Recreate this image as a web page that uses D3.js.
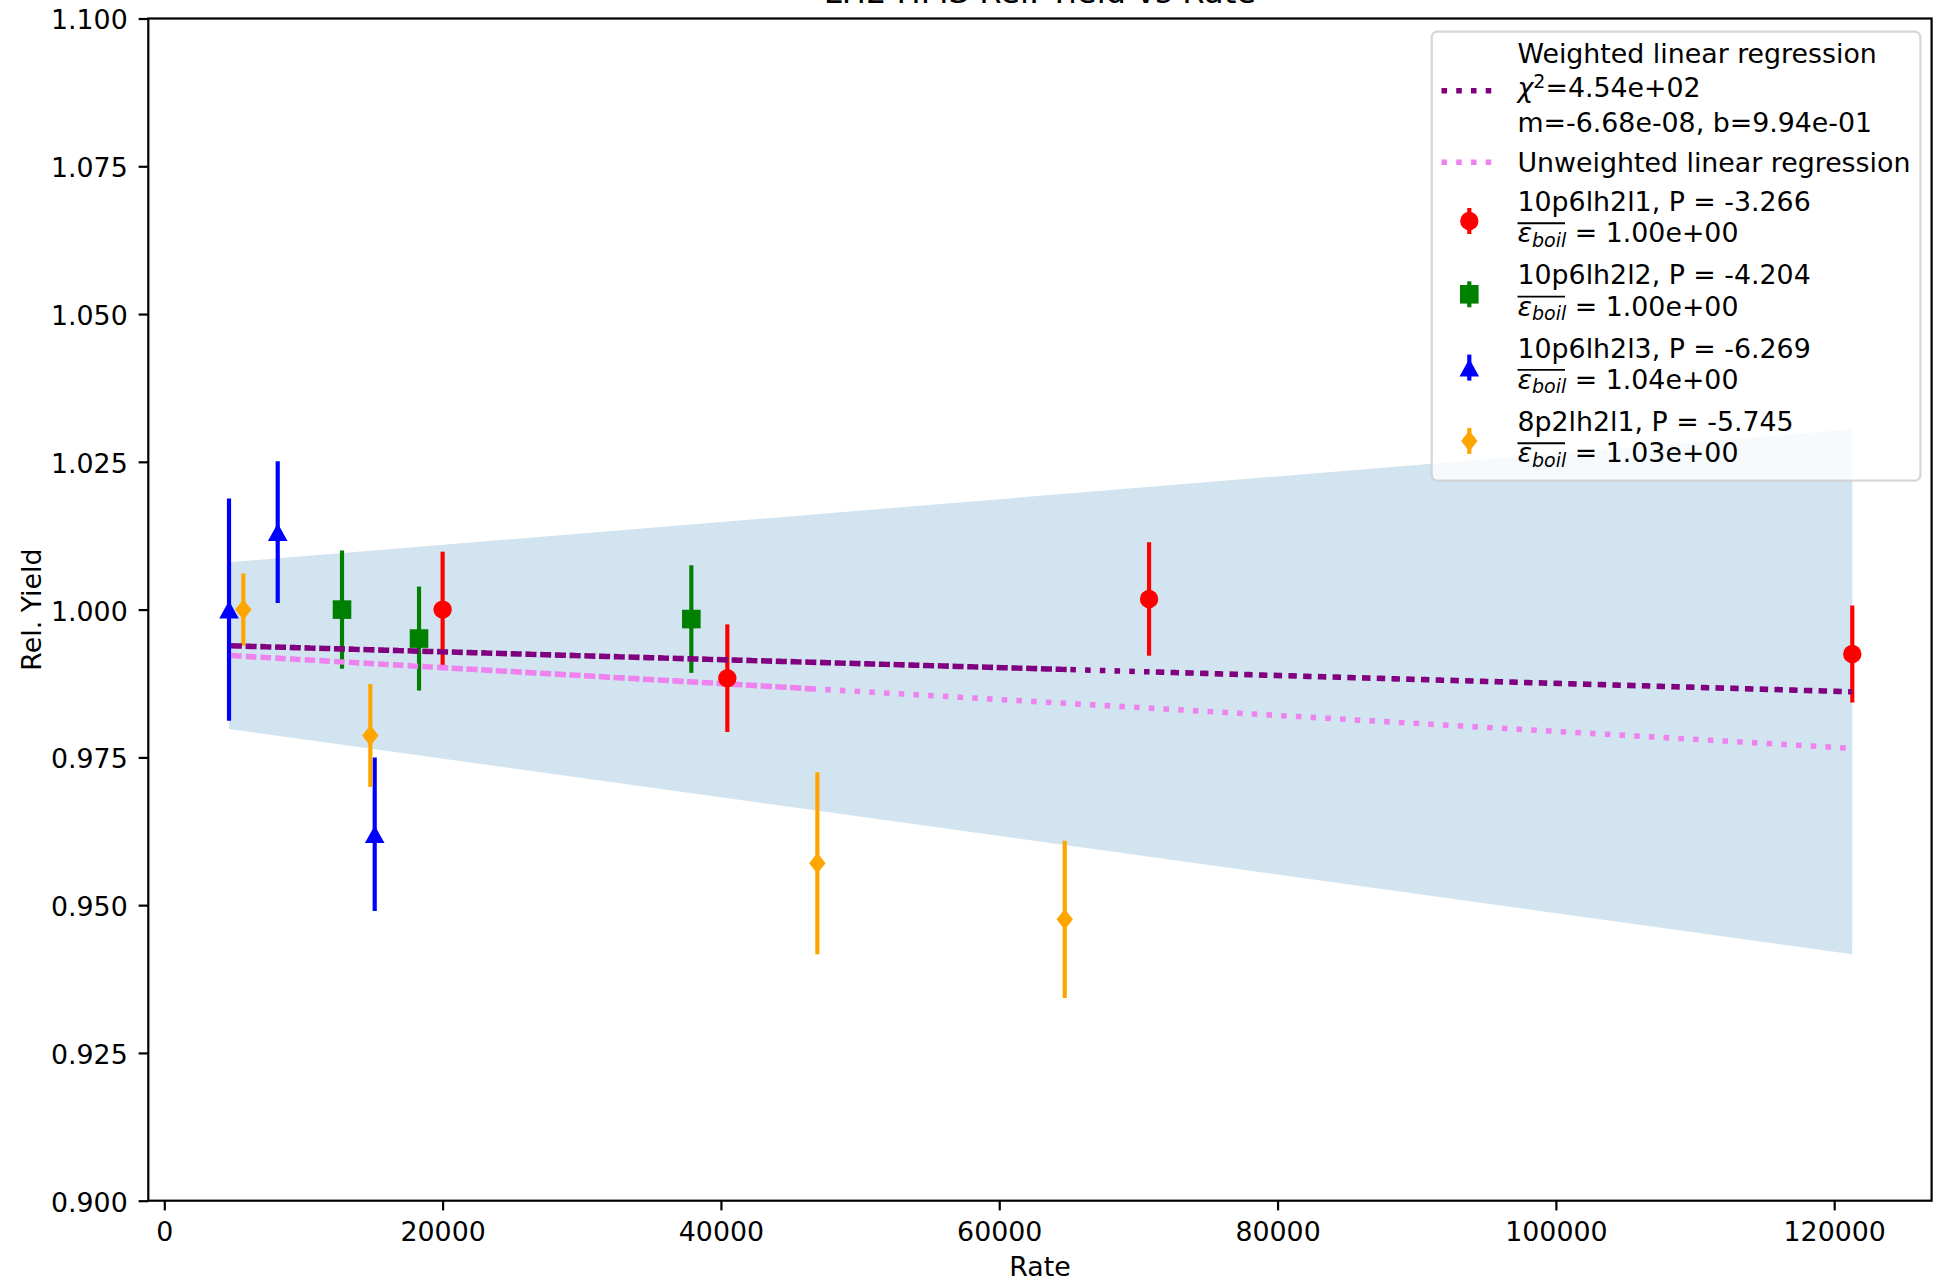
<!DOCTYPE html>
<html>
<head>
<meta charset="utf-8">
<script src="https://cdn.jsdelivr.net/npm/d3@7/dist/d3.min.js"></script>
<style>
  html, body { margin: 0; padding: 0; background: #ffffff; }
  svg { display: block; }
  text { font-family: "DejaVu Sans", sans-serif; }
</style>
</head>
<body>
<svg id="chart" width="1934" height="1283"></svg>
<script>
// ---------------- data ----------------
const chartTitle = "LH2 HMS Rel. Yield vs Rate";
const xLabel = "Rate";
const yLabel = "Rel. Yield";

const xLimits = [-1150, 127000];
const yLimits = [0.9, 1.1];
const xTicks = [0, 20000, 40000, 60000, 80000, 100000, 120000];
const yTicks = [0.900, 0.925, 0.950, 0.975, 1.000, 1.025, 1.050, 1.075, 1.100];

// series: 10p6lh2l1
const rate_l1  = [20000, 40460, 70766, 121300];
const yield_l1 = [1.0000, 0.9884, 1.0018, 0.9925];
const err_l1   = [0.0098, 0.0091, 0.0096, 0.0082];
// series: 10p6lh2l2
const rate_l2  = [12770, 18305, 37873];
const yield_l2 = [1.0000, 0.9951, 0.9984];
const err_l2   = [0.0100, 0.0088, 0.0091];
// series: 10p6lh2l3
const rate_l3  = [4650, 8150, 15120];
const yield_l3 = [1.0000, 1.0131, 0.9620];
const err_l3   = [0.0188, 0.0120, 0.0130];
// series: 8p2lh2l1
const rate_8p  = [5677, 14806, 46930, 64706];
const yield_8p = [1.0000, 0.9787, 0.9571, 0.9476];
const err_8p   = [0.0061, 0.0087, 0.0154, 0.0133];

const seriesNames = ["10p6lh2l1", "10p6lh2l2", "10p6lh2l3", "8p2lh2l1"];
const seriesP     = ["-3.266", "-4.204", "-6.269", "-5.745"];
const seriesEps   = ["1.00e+00", "1.00e+00", "1.04e+00", "1.03e+00"];
const seriesColors = ["#ff0000", "#008000", "#0000ff", "#ffa500"];
const seriesMarkers = ["circle", "square", "triangle", "thin_diamond"];

// confidence band (rate, low, high)
const bandRate = [4650, 121300];
const bandLow  = [0.9798, 0.9417];
const bandHigh = [1.0080, 1.0305];

// regression fits
const weightedFit   = { m: -6.68e-08, b: 0.9942 };
const unweightedFit = { m: -1.3485e-07, b: 0.99288 };
// rate vertices the fit lines were drawn through (in plotting order)
const weightedPath   = [64845, 4650, 121300, 70766];
const unweightedPath = [20000, 4650, 46930, 20000, 46930, 121300];

const weightedText = ["Weighted linear regression", "=4.54e+02", "m=-6.68e-08, b=9.94e-01"];
const unweightedText = "Unweighted linear regression";

// ---------------- drawing ----------------
const FS = 26.8;
const L = 148.3, R = 1931.6, T = 18.5, B = 1200.7;
const svg = d3.select("#chart");

const x = d3.scaleLinear().domain(xLimits).range([L, R]);
const y = d3.scaleLinear().domain(yLimits).range([B, T]);

const series = [
  { rate: rate_l1, val: yield_l1, err: err_l1 },
  { rate: rate_l2, val: yield_l2, err: err_l2 },
  { rate: rate_l3, val: yield_l3, err: err_l3 },
  { rate: rate_8p, val: yield_8p, err: err_8p }
].map((s, i) => ({
  ...s, name: seriesNames[i], p: seriesP[i], eps: seriesEps[i],
  color: seriesColors[i], marker: seriesMarkers[i]
}));

const defs = svg.append("defs");
defs.append("clipPath").attr("id", "axclip")
  .append("rect").attr("x", L).attr("y", T).attr("width", R - L).attr("height", B - T);

const plot = svg.append("g").attr("clip-path", "url(#axclip)");

// band
const bandData = bandRate.map((r, i) => ({ r, lo: bandLow[i], hi: bandHigh[i] }));
plot.append("path")
  .datum(bandData)
  .attr("d", d3.area().x(d => x(d.r)).y0(d => y(d.lo)).y1(d => y(d.hi)))
  .attr("fill", "#1f77b4").attr("fill-opacity", 0.2);

// error bars
series.forEach(s => {
  plot.append("g").selectAll("line")
    .data(s.rate.map((r, i) => ({ r, v: s.val[i], e: s.err[i] })))
    .join("line")
    .attr("x1", d => x(d.r)).attr("x2", d => x(d.r))
    .attr("y1", d => y(d.v - d.e)).attr("y2", d => y(d.v + d.e))
    .attr("stroke", s.color).attr("stroke-width", 4.17);
});

// fit lines
const LW = 5.56;
const dotDash = `${LW} ${LW * 1.65}`;
function fitLine(fit, path, color) {
  plot.append("path")
    .datum(path)
    .attr("d", d3.line().x(r => x(r)).y(r => y(fit.m * r + fit.b)))
    .attr("fill", "none")
    .attr("stroke", color).attr("stroke-width", LW)
    .attr("stroke-dasharray", dotDash).attr("stroke-linecap", "butt");
}
fitLine(weightedFit, weightedPath, "#800080");
fitLine(unweightedFit, unweightedPath, "#ee82ee");

// markers
function markerPath(type) {
  if (type === "circle") {
    const r = 9.2;
    return `M${-r},0A${r},${r} 0 1,0 ${r},0A${r},${r} 0 1,0 ${-r},0Z`;
  }
  if (type === "square") {
    const h = 9.3;
    return `M${-h},${-h}H${h}V${h}H${-h}Z`;
  }
  if (type === "triangle") {
    const w = 9.8, h = 8.8;
    return `M0,${-h}L${w},${h}L${-w},${h}Z`;
  }
  // thin diamond
  const w = 8.2, h = 10.4;
  return `M0,${-h}L${w},0L0,${h}L${-w},0Z`;
}
series.forEach(s => {
  plot.append("g").selectAll("path")
    .data(s.rate.map((r, i) => ({ r, v: s.val[i] })))
    .join("path")
    .attr("d", markerPath(s.marker))
    .attr("transform", d => `translate(${x(d.r)},${y(d.v)})`)
    .attr("fill", s.color);
});

// axes
const xAxis = svg.append("g").attr("transform", `translate(0,${B})`)
  .call(d3.axisBottom(x).tickValues(xTicks).tickFormat(d3.format("d"))
    .tickSize(9.7).tickPadding(11.6).tickSizeOuter(0));
const yAxis = svg.append("g").attr("transform", `translate(${L},0)`)
  .call(d3.axisLeft(y).tickValues(yTicks).tickFormat(d3.format(".3f"))
    .tickSize(9.7).tickPadding(10.9).tickSizeOuter(0));
[xAxis, yAxis].forEach(a => {
  a.select(".domain").remove();
  a.selectAll(".tick line").attr("stroke", "#000").attr("stroke-width", 2.2);
  a.selectAll(".tick text").attr("fill", "#000")
    .style("font-family", '"DejaVu Sans", sans-serif').style("font-size", FS + "px");
});
yAxis.selectAll(".tick text").attr("dy", "0.39em");

// spines
svg.append("rect").attr("x", L).attr("y", T).attr("width", R - L).attr("height", B - T)
  .attr("fill", "none").attr("stroke", "#000").attr("stroke-width", 2.2);

// labels
svg.append("text").attr("x", (L + R) / 2).attr("y", 1276.3)
  .attr("text-anchor", "middle").style("font-size", FS + "px").text(xLabel);
svg.append("text").attr("transform", `translate(40.5,${(T + B) / 2}) rotate(-90)`)
  .attr("text-anchor", "middle").style("font-size", FS + "px").text(yLabel);
svg.append("text").attr("x", (L + R) / 2).attr("y", 3)
  .attr("text-anchor", "middle").style("font-size", "32.2px").text(chartTitle);

// legend
const lg = svg.append("g");
lg.append("rect").attr("x", 1431.7).attr("y", 31.7).attr("width", 1920.4 - 1431.7).attr("height", 480.7 - 31.7)
  .attr("rx", 5.6).attr("ry", 5.6)
  .attr("fill", "#ffffff").attr("fill-opacity", 0.8)
  .attr("stroke", "#cccccc").attr("stroke-opacity", 0.8).attr("stroke-width", 2.2);

const hx0 = 1441.5, hx1 = 1441.5 + 55.6, hxc = (hx0 + hx1) / 2, tx = 1517.5;

// weighted entry
lg.append("line").attr("x1", hx0).attr("x2", hx1).attr("y1", 90.7).attr("y2", 90.7)
  .attr("stroke", "#800080").attr("stroke-width", LW).attr("stroke-dasharray", dotDash);
lg.append("text").attr("x", tx).attr("y", 62.7).style("font-size", FS + "px").text(weightedText[0]);
const chi = lg.append("text").attr("x", tx).attr("y", 97.3).style("font-size", FS + "px");
chi.append("tspan").attr("font-style", "italic").text("χ");
chi.append("tspan").attr("dy", -9.5).style("font-size", "19px").text("2");
chi.append("tspan").attr("dy", 9.5).text(weightedText[1]);
lg.append("text").attr("x", tx).attr("y", 131.7).style("font-size", FS + "px").text(weightedText[2]);

// unweighted entry
lg.append("line").attr("x1", hx0).attr("x2", hx1).attr("y1", 162.3).attr("y2", 162.3)
  .attr("stroke", "#ee82ee").attr("stroke-width", LW).attr("stroke-dasharray", dotDash);
lg.append("text").attr("x", tx).attr("y", 171.7).style("font-size", FS + "px").text(unweightedText);

// series entries
series.forEach((s, i) => {
  const cy = 221 + i * 73.3;
  lg.append("line").attr("x1", hxc).attr("x2", hxc).attr("y1", cy - 13).attr("y2", cy + 13)
    .attr("stroke", s.color).attr("stroke-width", 4.17);
  lg.append("path").attr("d", markerPath(s.marker)).attr("transform", `translate(${hxc},${cy})`)
    .attr("fill", s.color);
  lg.append("text").attr("x", tx).attr("y", cy - 10).style("font-size", FS + "px")
    .text(`${s.name}, P = ${s.p}`);
  const b2 = cy + 21.3;
  const t2 = lg.append("text").attr("x", tx).attr("y", b2).style("font-size", FS + "px");
  t2.append("tspan").attr("font-style", "italic").text("ε");
  t2.append("tspan").attr("font-style", "italic").attr("dy", 4.5).style("font-size", "19px").text("boil");
  t2.append("tspan").attr("dy", -4.5).text(` = ${s.eps}`);
  lg.append("line").attr("x1", tx).attr("x2", 1565).attr("y1", b2 - 19).attr("y2", b2 - 19)
    .attr("stroke", "#000").attr("stroke-width", 1.9);
});
</script>
</body>
</html>
